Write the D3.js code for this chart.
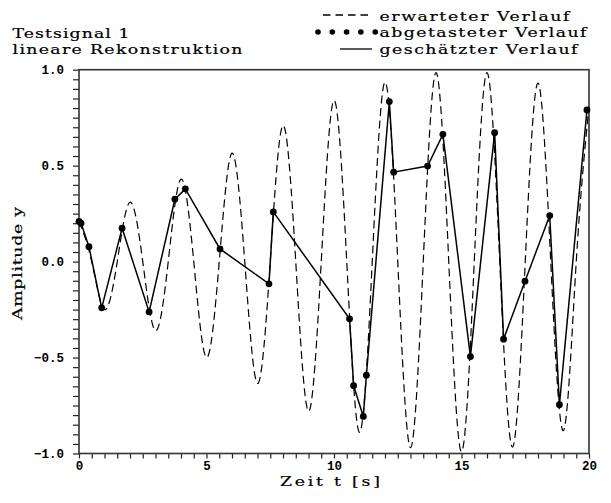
<!DOCTYPE html>
<html>
<head>
<meta charset="utf-8">
<script src="https://cdn.jsdelivr.net/npm/d3@7"></script>
<style>
  html, body { margin: 0; padding: 0; background: #fff; }
  svg { display: block; }
  text { fill: #000; }
</style>
</head>
<body>
<svg id="chart" width="611" height="503"></svg>
<script>
// ---- data ----
const titleLines = ["Testsignal 1", "lineare Rekonstruktion"];
const legendLabels = ["erwarteter Verlauf", "abgetasteter Verlauf", "geschätzter Verlauf"];
const xLabel = "Zeit t [s]";
const yLabel = "Amplitude y";

// expected signal: extrema and zero crossings (t in s)
const expectedT = [0,0.5,1,1.5,2,2.5,3,3.5,4,4.5,5,5.5,6,6.5,7,7.5,8,8.5,9,9.5,10,
                   10.5,11,11.5,12,12.5,13,13.5,14,14.5,15,15.5,16,16.5,17,17.5,18,18.5,19,19.5,20];
const expectedY = [0.21,0,-0.25,0,0.31,0,-0.36,0,0.43,0,-0.50,0,0.565,0,-0.635,0,0.71,0,-0.78,0,0.84,
                   0,-0.89,0,0.935,0,-0.97,0,0.985,0,-0.99,0,0.985,0,-0.967,0,0.93,0,-0.88,0,0.81];

// sampled points (also used for the linear reconstruction)
const sampleT = [0,0.08,0.39,0.89,1.69,2.75,3.76,4.17,5.53,7.45,7.62,10.61,10.77,11.15,11.27,
                 12.17,12.34,13.67,14.27,15.35,16.30,16.65,17.49,18.46,18.84,19.92];
const sampleY = [0.21,0.20,0.078,-0.241,0.174,-0.262,0.325,0.379,0.066,-0.116,0.259,-0.298,-0.647,-0.807,-0.592,
                 0.834,0.466,0.498,0.663,-0.495,0.672,-0.404,-0.102,0.240,-0.746,0.79];

const xTicks = d3.range(0, 20.001, 0.5);
const xTickLabels = [0, 5, 10, 15, 20];
const yTicks = d3.range(-1, 1.0001, 0.05);
const yTickLabels = [-1, -0.5, 0, 0.5, 1];

// ---- layout ----
const svg = d3.select("#chart");
const L = 79, R = 589, T = 69.7, B = 453.5;
const x = d3.scaleLinear().domain([0, 20]).range([L, R]);
const y = d3.scaleLinear().domain([-1, 1]).range([B, T]);

svg.append("defs").append("clipPath").attr("id", "clip")
  .append("rect").attr("x", L).attr("y", T - 1).attr("width", R - L).attr("height", B - T + 2);

// axes
const isMajorX = v => xTickLabels.some(l => Math.abs(l - v) < 1e-6);
const isMajorY = v => yTickLabels.some(l => Math.abs(l - v) < 1e-6);

const xAxis = d3.axisBottom(x).tickValues(xTicks).tickSize(5).tickSizeOuter(0).tickPadding(3)
  .tickFormat(v => isMajorX(v) ? d3.format("d")(Math.round(v)) : "");
const yAxis = d3.axisLeft(y).tickValues(yTicks).tickSize(6).tickSizeOuter(0).tickPadding(9)
  .tickFormat(v => isMajorY(v) ? d3.format(".1f")(Math.round(v * 10) / 10) : "");

const gx = svg.append("g").attr("transform", `translate(0,${B})`).call(xAxis);
const gy = svg.append("g").attr("transform", `translate(${L},0)`).call(yAxis);
[gx, gy].forEach(g => {
  g.select(".domain").remove();
  g.selectAll(".tick line").attr("stroke", "#222").attr("stroke-width", 1.2);
  g.selectAll(".tick text").attr("font-family", "Liberation Mono, monospace")
    .attr("font-size", 12.5).attr("font-weight", "bold").attr("fill", "#000");
});

// frame
svg.append("rect").attr("x", L).attr("y", T).attr("width", R - L).attr("height", B - T)
  .attr("fill", "none").attr("stroke", "#333").attr("stroke-width", 1.6);

// expected curve (dashed)
const expected = expectedT.map((t, i) => [t, expectedY[i]]);
svg.append("path").datum(expected)
  .attr("clip-path", "url(#clip)")
  .attr("d", d3.line().x(d => x(d[0])).y(d => y(d[1])).curve(d3.curveNatural))
  .attr("fill", "none").attr("stroke", "#000").attr("stroke-width", 1.2)
  .attr("stroke-dasharray", "8,4.5");

// reconstruction (solid)
const samples = sampleT.map((t, i) => [t, sampleY[i]]);
svg.append("path").datum(samples)
  .attr("d", d3.line().x(d => x(d[0])).y(d => y(d[1])))
  .attr("fill", "none").attr("stroke", "#000").attr("stroke-width", 1.5);

// sample dots
svg.append("g").selectAll("circle").data(samples).join("circle")
  .attr("cx", d => x(d[0])).attr("cy", d => y(d[1])).attr("r", 3.4).attr("fill", "#000");

// serif text, widened and letter-spaced to the reference's fixed-pitch look
function wideText(parent, str, px, py, width, rot) {
  const g = parent.append("g");
  const t = g.append("text").attr("x", 0).attr("y", 0).text(str)
    .attr("font-family", "DejaVu Serif, serif").attr("font-size", 13.5)
    .attr("stroke", "#000").attr("stroke-width", 0.2);
  const w = t.node().getComputedTextLength();
  const sx = Math.min(1.28, width / w);
  t.attr("textLength", width / sx).attr("lengthAdjust", "spacing");
  g.attr("transform", `translate(${px},${py})${rot ? " rotate(" + rot + ")" : ""} scale(${sx},1)`);
  return g;
}

const titleWidths = [117, 230];
const titleY = [38.3, 54.3];
titleLines.forEach((s, i) => wideText(svg, s, 12.5, titleY[i], titleWidths[i]));

// legend
const legendWidths = [190, 207, 198];
const legendY = [20.7, 37.3, 53.5];
const lg = svg.append("g");
legendLabels.forEach((s, i) => wideText(lg, s, 379.5, legendY[i], legendWidths[i]));
lg.append("line").attr("x1", 323).attr("x2", 372).attr("y1", 15).attr("y2", 15)
  .attr("stroke", "#000").attr("stroke-width", 1.3).attr("stroke-dasharray", "7.5,5");
lg.selectAll("circle").data(d3.range(5)).join("circle")
  .attr("cx", d => 318 + d * 14.3).attr("cy", 32).attr("r", 2.8).attr("fill", "#000");
lg.append("line").attr("x1", 340).attr("x2", 372).attr("y1", 49).attr("y2", 49)
  .attr("stroke", "#000").attr("stroke-width", 1.3);

// axis labels
wideText(svg, xLabel, 280, 486, 100);
wideText(svg, yLabel, 21.5, 320, 113, -90);
</script>
</body>
</html>
